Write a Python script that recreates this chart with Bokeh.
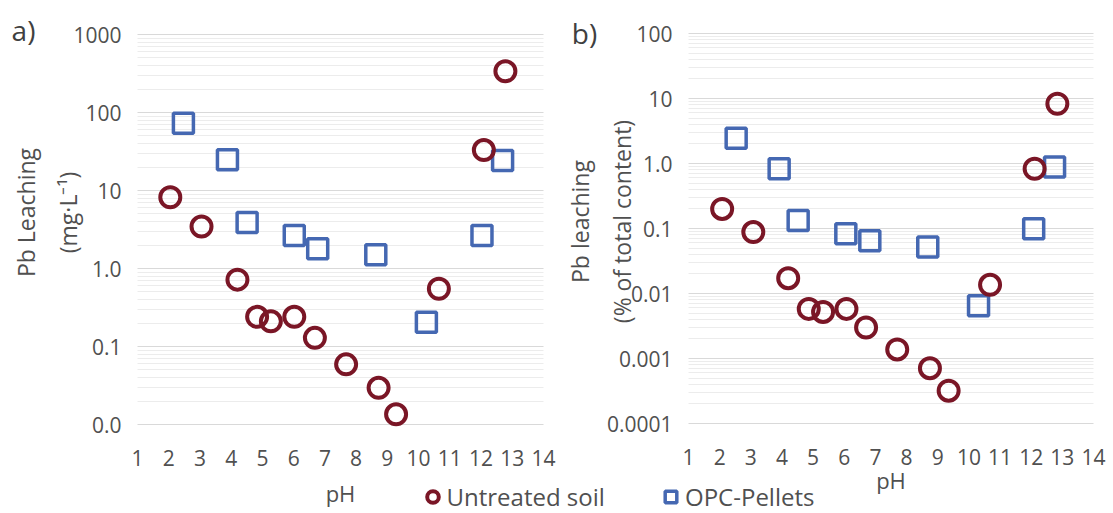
import math
from bokeh.plotting import figure
from bokeh.models import (Range1d, FixedTicker, CustomJSTickFormatter, Legend,
                          LegendItem, Label, LogAxis, LinearAxis, Grid, LogScale)
from bokeh.embed import file_html
from bokeh.resources import INLINE

# ---------------- data ----------------
ph_ticks = list(range(1, 15))

# panel a) Pb leaching (mg/L)
a_soil_ph = [2.05, 3.05, 4.2, 4.83, 5.27, 6.02, 6.68, 7.68, 8.72, 9.28, 10.65, 12.09, 12.78]
a_soil_pb = [8.2, 3.45, 0.72, 0.24, 0.21, 0.24, 0.129, 0.059, 0.0295, 0.0135, 0.55, 33, 338]
a_opc_ph = [2.47, 3.88, 4.51, 6.02, 6.77, 8.63, 10.25, 12.03, 12.69]
a_opc_pb = [73, 24.7, 3.9, 2.65, 1.79, 1.5, 0.205, 2.65, 24.3]
a_y_ticks = [0.01, 0.1, 1, 10, 100, 1000]
a_y_labels = ["0.0", "0.1", "1.0", "10", "100", "1000"]

# panel b) Pb leaching (% of total content)
b_soil_ph = [2.08, 3.08, 4.2, 4.86, 5.32, 6.07, 6.7, 7.7, 8.75, 9.35, 10.68, 12.11, 12.84]
b_soil_pct = [0.20, 0.088, 0.0172, 0.0058, 0.0052, 0.0058, 0.003, 0.00138, 0.00071, 0.00032, 0.0136, 0.83, 8.3]
b_opc_ph = [2.53, 3.91, 4.52, 6.05, 6.82, 8.68, 10.31, 12.08, 12.75]
b_opc_pct = [2.45, 0.83, 0.133, 0.083, 0.065, 0.052, 0.0065, 0.099, 0.88]
b_y_ticks = [0.0001, 0.001, 0.01, 0.1, 1, 10, 100]
b_y_labels = ["0.0001", "0.001", "0.01", "0.1", "1.0", "10", "100"]

soil_label = "Untreated soil"
opc_label = "OPC-Pellets"

# ---------------- layout / style ----------------
W, H = 1112, 512
# pixel geometry of the two plot areas on the canvas (x0, x1, ytop, ybottom)
A_BOX = (137, 543, 34, 424)
B_BOX = (688, 1093, 33, 423)

FONT = "Open Sans"
SOIL_COLOR = "#7a1626"
OPC_COLOR = "#4568b2"
TEXT_COLOR = "#505050"


def minor_ticks(ticks):
    out = []
    for t in ticks[:-1]:
        out += [m * t for m in range(2, 10)]
    return out


def x_map(box):
    x0, x1 = box[0], box[1]
    s = (ph_ticks[-1] - ph_ticks[0]) / (x1 - x0)
    return lambda px: ph_ticks[0] + (px - x0) * s


def y_map(box, ticks):
    yt, yb = box[2], box[3]
    lt, lb = math.log10(ticks[-1]), math.log10(ticks[0])
    k = (lt - lb) / (yb - yt)
    return lambda py: 10 ** (lt - (py - yt) * k)


ax_a, ay_a = x_map(A_BOX), y_map(A_BOX, a_y_ticks)
ax_b, ay_b = x_map(B_BOX), y_map(B_BOX, b_y_ticks)

p = figure(width=W, height=H, x_range=Range1d(ax_a(0), ax_a(W)),
           y_range=Range1d(ay_a(H), ay_a(0)), x_axis_type=None, y_axis_type=None,
           output_backend="svg", toolbar_location=None)
p.y_scale = LogScale()
p.extra_x_ranges = {"b": Range1d(ax_b(0), ax_b(W))}
p.extra_y_ranges = {"b": Range1d(ay_b(H), ay_b(0))}
p.extra_y_scales = {"b": LogScale()}
p.min_border = 0
p.outline_line_color = None
p.background_fill_color = "white"
p.border_fill_color = "white"


def style_axis(ax):
    ax.axis_line_color = None
    ax.major_tick_line_color = None
    ax.minor_tick_line_color = None
    ax.major_label_text_font = FONT
    ax.major_label_text_font_size = "21px"
    ax.major_label_text_color = TEXT_COLOR
    ax.axis_label_text_font = FONT
    ax.axis_label_text_font_style = "normal"
    ax.axis_label_text_color = TEXT_COLOR


def add_panel(rng, y_ticks, y_labels, y_title, y_title_standoff, title_top,
              x_title_standoff):
    yticker = FixedTicker(ticks=y_ticks, minor_ticks=minor_ticks(y_ticks))
    ya = LogAxis(ticker=yticker, x_range_name=rng, y_range_name=rng,
                 fixed_location=ph_ticks[0], bounds=(y_ticks[0], title_top),
                 axis_label=y_title, axis_label_standoff=y_title_standoff,
                 major_label_standoff=10,
                 formatter=CustomJSTickFormatter(args=dict(tv=y_ticks, tl=y_labels), code="""
                     for (let i = 0; i < tv.length; i++) {
                         if (Math.abs(Math.log10(tv[i]) - Math.log10(tick)) < 1e-6) return tl[i];
                     }
                     return "";
                 """))
    style_axis(ya)
    ya.axis_label_text_font_size = "23px"
    ya.axis_label_text_line_height = 1.32
    p.add_layout(ya, "left")

    xa = LinearAxis(ticker=FixedTicker(ticks=ph_ticks, minor_ticks=[]),
                    x_range_name=rng, y_range_name=rng,
                    fixed_location=y_ticks[0], bounds=(ph_ticks[0], ph_ticks[-1]),
                    axis_label="pH", axis_label_standoff=x_title_standoff,
                    major_label_standoff=19)
    style_axis(xa)
    xa.axis_label_text_font_size = "22px"
    p.add_layout(xa, "below")

    g = Grid(dimension=1, ticker=yticker, x_range_name=rng, y_range_name=rng,
             cross_bounds=(ph_ticks[0], ph_ticks[-1]),
             grid_line_color="#d9d9d9", grid_line_width=1,
             minor_grid_line_color="#ececec")
    p.add_layout(g)


add_panel("default", a_y_ticks, a_y_labels, "Pb Leaching\n(mg\u00b7L\u207b\u00b9)", -14,
          ay_a(-2), 9)
add_panel("b", b_y_ticks, b_y_labels, "Pb leaching\n(% of total content)", -34,
          ay_b(19), -3)

# markers
p.scatter(a_opc_ph, a_opc_pb, marker="square", size=20, fill_color=None,
          line_color=OPC_COLOR, line_width=3.5)
r_soil = p.scatter(a_soil_ph, a_soil_pb, marker="circle", size=20, fill_color=None,
                   line_color=SOIL_COLOR, line_width=4)
r_opc = p.scatter(b_opc_ph, b_opc_pct, marker="square", size=20, fill_color=None,
                  line_color=OPC_COLOR, line_width=3.5, x_range_name="b", y_range_name="b")
p.scatter(b_soil_ph, b_soil_pct, marker="circle", size=20, fill_color=None,
          line_color=SOIL_COLOR, line_width=4, x_range_name="b", y_range_name="b")


def add_legend(renderer, label, cx, cy):
    g = 29
    leg = Legend(items=[LegendItem(label=label, renderers=[renderer])],
                 location=(cx - g / 2, H - cy - g / 2), orientation="horizontal",
                 padding=0, margin=0, border_line_color=None, background_fill_alpha=0,
                 glyph_width=g, glyph_height=g, label_height=g, label_standoff=0,
                 label_text_font=FONT, label_text_font_size="24px",
                 label_text_color=TEXT_COLOR)
    p.add_layout(leg)


add_legend(r_soil, soil_label, 432, 498.5)
add_legend(r_opc, opc_label, 670.5, 498.5)

# panel letters
p.add_layout(Label(x=ax_a(23), y=ay_a(29), text="a)", text_font=FONT, text_font_size="28px",
                   text_align="center", text_baseline="middle", text_color="#404040"))
p.add_layout(Label(x=ax_b(584), y=ay_b(32), x_range_name="b", y_range_name="b", text="b)",
                   text_font=FONT, text_font_size="28px", text_align="center",
                   text_baseline="middle", text_color="#404040"))

open("out.html", "w").write(file_html(p, INLINE))
